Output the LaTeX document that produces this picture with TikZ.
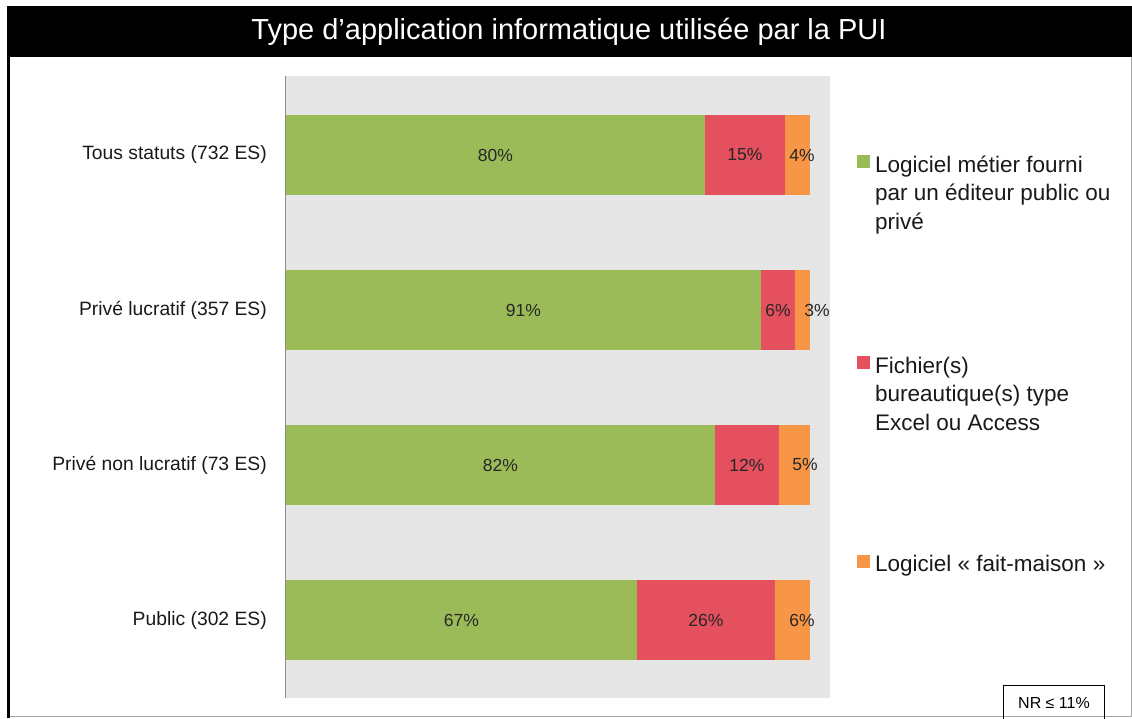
\documentclass[tikz,border=0pt]{standalone}
\usepackage{fontspec}
\setmainfont{Liberation Sans}
\usetikzlibrary{positioning}

\definecolor{vert}{HTML}{9BBB59}
\definecolor{rouge}{HTML}{E5505E}
\definecolor{orangebar}{HTML}{F79646}
\definecolor{fond}{HTML}{E6E6E6}

\begin{document}
\begin{tikzpicture}
        [x = 1pt, y = -1pt,
            cat label/.style = {anchor=east, inner sep=0, text=black!90,
                font=\fontsize{19.3}{23}\selectfont},
            pct/.style = {inner sep=0, text=black!85, font=\fontsize{17.5}{21}\selectfont},
            legend box/.style = {minimum size=13pt, inner sep=0},
            legend text/.style = {anchor=base west, inner sep=0, align=left, text=black!90,
                font=\fontsize{22.5}{28.5}\selectfont},
            nr box/.style = {draw, line width=1pt, minimum width=101pt, minimum height=36pt,
                inner sep=0, font=\fontsize{16}{19}\selectfont}]

        \useasboundingbox (0,0) rectangle (1132,718);

        % cadre et titre
        \fill[black] (7,6) rectangle (1132,57);
        \draw[black!35, line width=1pt] (1131,57) -- (1131,716.5) -- (9,716.5);
        \draw[line width=3pt] (8.5,57) -- (8.5,718);
        \node[text=white, font=\fontsize{29}{34}\selectfont] (title) at (569,32)
            {Type d’application informatique utilisée par la PUI};

        % zone du graphique
        \fill[fond] (285,76) rectangle (830,698);
        \draw[black!45] (285.5,76) -- (285.5,698);

        \foreach \y/\g/\r/\xo/\pg/\pr/\po/\cat [count=\i] in
            {155/705/785/802/80/15/4/Tous statuts (732 ES),
             310/761/795/817/91/6/3/Privé lucratif (357 ES),
             465/715/779/805/82/12/5/Privé non lucratif (73 ES),
             620/637/775/802/67/26/6/Public (302 ES)}
        {
            \fill[vert] (286,\y-40) rectangle (\g,\y+40);
            \fill[rouge] (\g,\y-40) rectangle (\r,\y+40);
            \fill[orangebar] (\r,\y-40) rectangle (810,\y+40);
            \node[pct] (pg\i) at ({(286+\g)/2},\y) {\pg\%};
            \node[pct] (pr\i) at ({(\g+\r)/2},\y) {\pr\%};
            \node[pct] (po\i) at (\xo,\y) {\po\%};
            \node[cat label] (cat\i) at (267,\y) {\cat};
        }

        % legende (ancre base = derniere ligne)
        \node[legend box, fill=vert] (leg1) at (863.5,161.5) {};
        \node[legend text] (legtxt1) at (875,229)
            {Logiciel métier fourni\\par un éditeur public ou\\privé};
        \node[legend box, fill=rouge] (leg2) at (863.5,362) {};
        \node[legend text] (legtxt2) at (875,430)
            {Fichier(s)\\bureautique(s) type\\Excel ou Access};
        \node[legend box, fill=orangebar] (leg3) at (863.5,561.5) {};
        \node[legend text] (legtxt3) at (875,571) {Logiciel «~fait-maison~»};

        \node[nr box] (nr) at (1054,703) {NR ≤ 11\%};
    \end{tikzpicture}
\end{document}
